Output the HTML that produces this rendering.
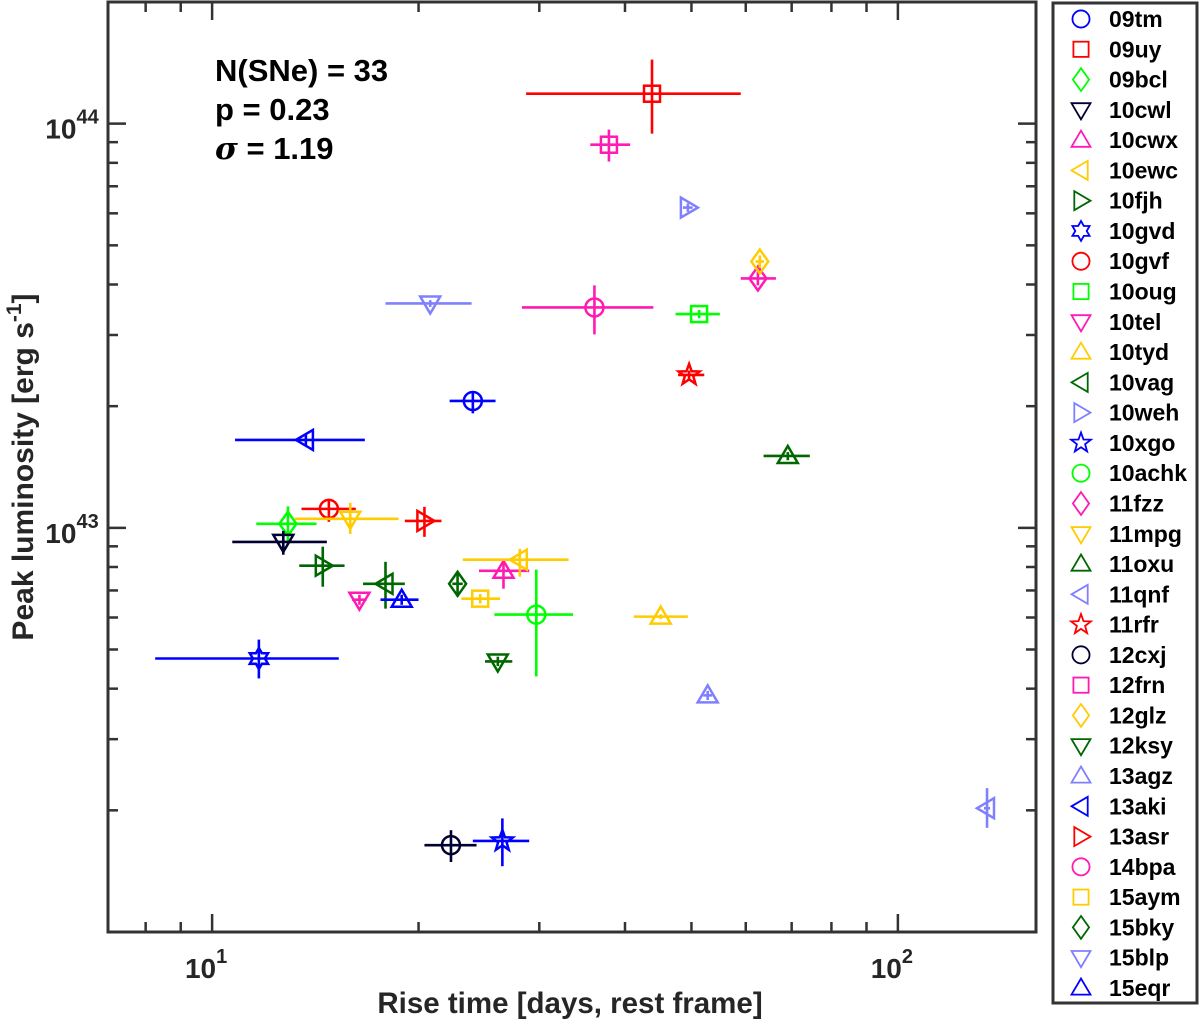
<!DOCTYPE html>
<html><head><meta charset="utf-8"><style>
html,body{margin:0;padding:0;background:#fff;}
svg{display:block;font-family:"Liberation Sans",Arial,sans-serif;}
</style></head><body>
<svg id="chart" width="1200" height="1022" viewBox="0 0 1200 1022" xmlns="http://www.w3.org/2000/svg">
<rect x="0" y="0" width="1200" height="1022" fill="#fff"/>
<g id="marks"></g>
<g id="axes"></g>
<text x="215" y="81" font-size="31" font-weight="bold" fill="#000">N(SNe) = 33</text>
<text x="215" y="120" font-size="31" font-weight="bold" fill="#000">p = 0.23</text>
<text x="215" y="159" font-size="31" font-weight="bold" fill="#000"><tspan font-style="italic" font-family="'DejaVu Serif',serif">σ</tspan> = 1.19</text>
<text x="570" y="1013" font-size="29.5" font-weight="bold" fill="#262626" text-anchor="middle">Rise time [days, rest frame]</text>
<text transform="translate(33,467) rotate(-90)" font-size="30" font-weight="bold" fill="#262626" text-anchor="middle">Peak luminosity [erg s<tspan dy="-12" font-size="21">-1</tspan><tspan dy="12">]</tspan></text>
<g id="legend"></g>
</svg>
<script>
const names = ["09tm","09uy","09bcl","10cwl","10cwx","10ewc","10fjh","10gvd","10gvf","10oug","10tel","10tyd","10vag","10weh","10xgo","10achk","11fzz","11mpg","11oxu","11qnf","11rfr","12cxj","12frn","12glz","12ksy","13agz","13aki","13asr","14bpa","15aym","15bky","15blp","15eqr"];
const colors = ["#0000ff","#ff0000","#00ff00","#000033","#ff1ab3","#ffcc00","#006600","#0000ff","#ff0000","#00ff00","#ff1ab3","#ffcc00","#006600","#8080ff","#0000ff","#00ff00","#ff1ab3","#ffcc00","#006600","#8080ff","#ff0000","#000033","#ff1ab3","#ffcc00","#006600","#8080ff","#0000ff","#ff0000","#ff1ab3","#ffcc00","#006600","#8080ff","#0000ff"];
const shapes = ["o","s","d","v","^","<",">","h","o","s","v","^","<",">","p","o","d","v","^","<","p","o","s","d","v","^","<",">","o","s","d","v","^"];
// rise time [days]
const riseTime = [24.0,43.8,12.9,12.7,26.6,28.1,14.5,11.7,14.8,51.3,16.4,45.1,17.9,49.4,26.5,29.7,62.5,15.9,69.1,134.9,49.6,22.3,37.9,62.9,26.1,52.8,13.7,20.4,36.1,24.6,22.8,20.8,18.9];
const riseLo = [22.2,28.7,11.6,10.7,24.5,23.2,13.4,8.26,13.5,47.4,16.0,41.2,16.6,48.6,24.0,25.8,59.0,13.2,63.7,133.5,47.8,20.4,35.6,62.0,25.0,52.0,10.8,19.1,28.3,23.1,22.4,17.9,17.6];
const riseHi = [25.9,59.0,14.2,14.7,29.0,33.1,15.6,15.3,16.2,55.0,16.8,49.4,19.1,50.2,29.0,33.6,66.4,18.7,74.4,136.3,52.2,24.3,40.7,63.8,27.4,53.6,16.7,21.6,44.0,26.3,23.2,23.9,20.0];
// peak luminosity [1e43 erg/s]
const peakLum = [2.06,11.86,1.023,0.923,0.783,0.834,0.806,0.475,1.114,3.38,0.664,0.603,0.727,6.20,0.168,0.610,4.14,1.053,1.506,0.2024,2.39,0.164,8.87,4.56,0.467,0.385,1.65,1.04,3.51,0.668,0.727,3.59,0.664];
const lumLo = [1.92,9.45,0.913,0.858,0.707,0.757,0.715,0.424,1.035,3.30,0.645,0.595,0.631,6.05,0.1455,0.429,3.98,0.966,1.47,0.181,2.33,0.149,8.06,4.40,0.455,0.375,1.60,0.95,3.01,0.650,0.676,3.52,0.645];
const lumHi = [2.18,14.4,1.13,0.983,0.838,0.887,0.898,0.529,1.18,3.46,0.683,0.611,0.824,6.35,0.191,0.788,4.30,1.153,1.54,0.227,2.45,0.1786,9.67,4.72,0.480,0.395,1.70,1.127,3.98,0.686,0.77,3.66,0.683];
const xTickVals = [10,100];
const xTickLabels = ["1","2"];
const yTickVals = [1e43,1e44];
const yTickLabels = ["43","44"];

const NS="http://www.w3.org/2000/svg";
const L=108,R=1036,T=2,B=932;
const xmin=7.05,xmax=159,ymin=1e42,ymax=2e44;
const xs=v=>L+(Math.log10(v)-Math.log10(xmin))/(Math.log10(xmax)-Math.log10(xmin))*(R-L);
const ys=v=>B-(Math.log10(v)-Math.log10(ymin))/(Math.log10(ymax)-Math.log10(ymin))*(B-T);
function mk(tag,attrs,parent){const e=document.createElementNS(NS,tag);for(const k in attrs)e.setAttribute(k,attrs[k]);parent.appendChild(e);return e;}
function markerPath(s,cx,cy,r){
  const pts=a=>a.map(p=>(cx+p[0]).toFixed(1)+","+(cy+p[1]).toFixed(1)).join(" ");
  if(s==="s") return ["rect",{x:cx-r*0.8,y:cy-r*0.8,width:r*1.6,height:r*1.6}];
  if(s==="o") return ["circle",{cx:cx,cy:cy,r:r*0.9}];
  if(s==="d") return ["polygon",{points:pts([[0,-r*1.2],[r*0.85,0],[0,r*1.2],[-r*0.85,0]])}];
  if(s==="v") return ["polygon",{points:pts([[-r,-r*0.7],[r,-r*0.7],[0,r]])}];
  if(s==="^") return ["polygon",{points:pts([[-r,r*0.7],[r,r*0.7],[0,-r]])}];
  if(s==="<") return ["polygon",{points:pts([[r*0.7,-r],[r*0.7,r],[-r,0]])}];
  if(s===">") return ["polygon",{points:pts([[-r*0.7,-r],[-r*0.7,r],[r,0]])}];
  if(s==="p"){const a=[];for(let i=0;i<10;i++){const ang=-Math.PI/2+i*Math.PI/5;const rr=i%2?r*0.45:r*1.1;a.push([rr*Math.cos(ang),rr*Math.sin(ang)]);}return ["polygon",{points:pts(a)}];}
  if(s==="h"){const a=[];for(let i=0;i<12;i++){const ang=-Math.PI/2+i*Math.PI/6;const rr=i%2?r*0.6:r*1.05;a.push([rr*Math.cos(ang),rr*Math.sin(ang)]);}return ["polygon",{points:pts(a)}];}
}
const marks=document.getElementById('marks');
for(let i=0;i<names.length;i++){
  const g=mk('g',{},marks);
  
  
  const cx=xs(riseTime[i]),cy=ys(peakLum[i]*1e43);
  const c=colors[i];
  mk('line',{x1:xs(riseLo[i]),x2:xs(riseHi[i]),y1:cy,y2:cy,stroke:c,'stroke-width':2.6},g);
  mk('line',{x1:cx,x2:cx,y1:ys(lumLo[i]*1e43),y2:ys(lumHi[i]*1e43),stroke:c,'stroke-width':2.6},g);
  const m=markerPath(shapes[i],cx,cy,10);
  const a=Object.assign({fill:'none',stroke:c,'stroke-width':2.5},m[1]);
  mk(m[0],a,g);
}
const ax=document.getElementById('axes');
const ac="#333";
mk('rect',{x:L,y:T,width:R-L,height:B-T,fill:'none',stroke:ac,'stroke-width':3},ax);
for(let d=1;d<=100;d*=10){for(let k=1;k<10;k++){const v=d*k;if(v<xmin||v>xmax)continue;const x=xs(v);const len=k===1?18:10;
  mk('line',{x1:x,x2:x,y1:B,y2:B-len,stroke:ac,'stroke-width':2.5},ax);
  mk('line',{x1:x,x2:x,y1:T,y2:T+len,stroke:ac,'stroke-width':2.5},ax);}}
for(let d=1e42;d<=1e44;d*=10){for(let k=1;k<10;k++){const v=d*k;if(v<ymin*1.01||v>ymax)continue;const y=ys(v);const len=k===1?18:10;
  mk('line',{x1:L,x2:L+len,y1:y,y2:y,stroke:ac,'stroke-width':2.5},ax);
  mk('line',{x1:R,x2:R-len,y1:y,y2:y,stroke:ac,'stroke-width':2.5},ax);}}
xTickVals.forEach((v,i)=>{const t=mk('text',{x:xs(v)-6,y:978,'font-size':28,'font-weight':'bold',fill:'#262626','text-anchor':'middle'},ax);
  
  
  t.innerHTML='10<tspan dy="-15" font-size="20">'+xTickLabels[i]+'</tspan>';});
yTickVals.forEach((v,i)=>{const t=mk('text',{x:72,y:ys(v)+15,'font-size':28,'font-weight':'bold',fill:'#262626','text-anchor':'middle'},ax);
  
  
  t.innerHTML='10<tspan dy="-15" font-size="20">'+yTickLabels[i]+'</tspan>';});
const lg=document.getElementById('legend');
mk('rect',{x:1053,y:3,width:144,height:1000,fill:'#fff',stroke:ac,'stroke-width':3},lg);
for(let i=0;i<names.length;i++){
  const g=mk('g',{},lg);
  
  
  const cy=19+i*30.28;
  const m=markerPath(shapes[i],1081,cy,9.5);
  mk(m[0],Object.assign({fill:'none',stroke:colors[i],'stroke-width':1.8},m[1]),g);
  const t=mk('text',{x:1109,y:cy+8,'font-size':23,'font-weight':'bold',fill:'#000'},g);
  t.textContent=names[i];
}
</script>
</body></html>
